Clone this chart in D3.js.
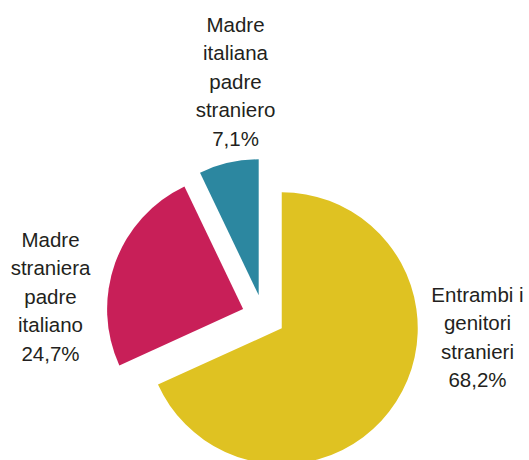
<!DOCTYPE html>
<html>
<head>
<meta charset="utf-8">
<script src="https://cdn.jsdelivr.net/npm/d3@7"></script>
<style>
  body { margin: 0; background: #fff; }
  text { font-family: "Liberation Sans", Arial, sans-serif; font-size: 20.5px; fill: #231f20; }
</style>
</head>
<body>
<script>
// categories and values (percent), clockwise from 12 o'clock
const categories = ["Entrambi i genitori stranieri", "Madre straniera padre italiano", "Madre italiana padre straniero"];
const values = [68.2, 24.7, 7.1];
const valueLabels = ["68,2%", "24,7%", "7,1%"];
const labelLines = [
  ["Entrambi i", "genitori", "stranieri"],
  ["Madre", "straniera", "padre", "italiano"],
  ["Madre", "italiana", "padre", "straniero"]
];
const colors = ["#dfc222", "#c81f58", "#2c87a0"];

// label anchor (x offset, first baseline offset) relative to the pie centre
const labelPos = [[214, -15], [-213, -70], [-28, -285]];

const width = 529, height = 460;
const cx = 263.5, cy = 316.5, radius = 136, explode = 21.7, lineH = 28.5;

let svg = d3.select("body").append("svg")
  .attr("width", width)
  .attr("height", height);

let pie = d3.pie().sort(null).value(d => d)(values);

let arc = d3.arc().innerRadius(0).outerRadius(radius);

let g = svg.append("g").attr("transform", "translate(" + cx + "," + cy + ")");

g.selectAll("path")
  .data(pie).enter().append("path")
    .attr("d", arc)
    .attr("fill", (d, i) => colors[i])
    .attr("transform", d => {
      let a = (d.startAngle + d.endAngle) / 2;
      return "translate(" + (Math.sin(a) * explode) + "," + (-Math.cos(a) * explode) + ")";
    });

// labels
labelLines.forEach((lines, i) => {
  let all = lines.concat([valueLabels[i]]);
  let t = g.append("text")
    .attr("text-anchor", "middle")
    .attr("x", labelPos[i][0])
    .attr("y", labelPos[i][1]);
  all.forEach((s, j) => {
    t.append("tspan")
      .attr("x", labelPos[i][0])
      .attr("y", labelPos[i][1] + j * lineH)
      .text(s);
  });
});
</script>
</body>
</html>
